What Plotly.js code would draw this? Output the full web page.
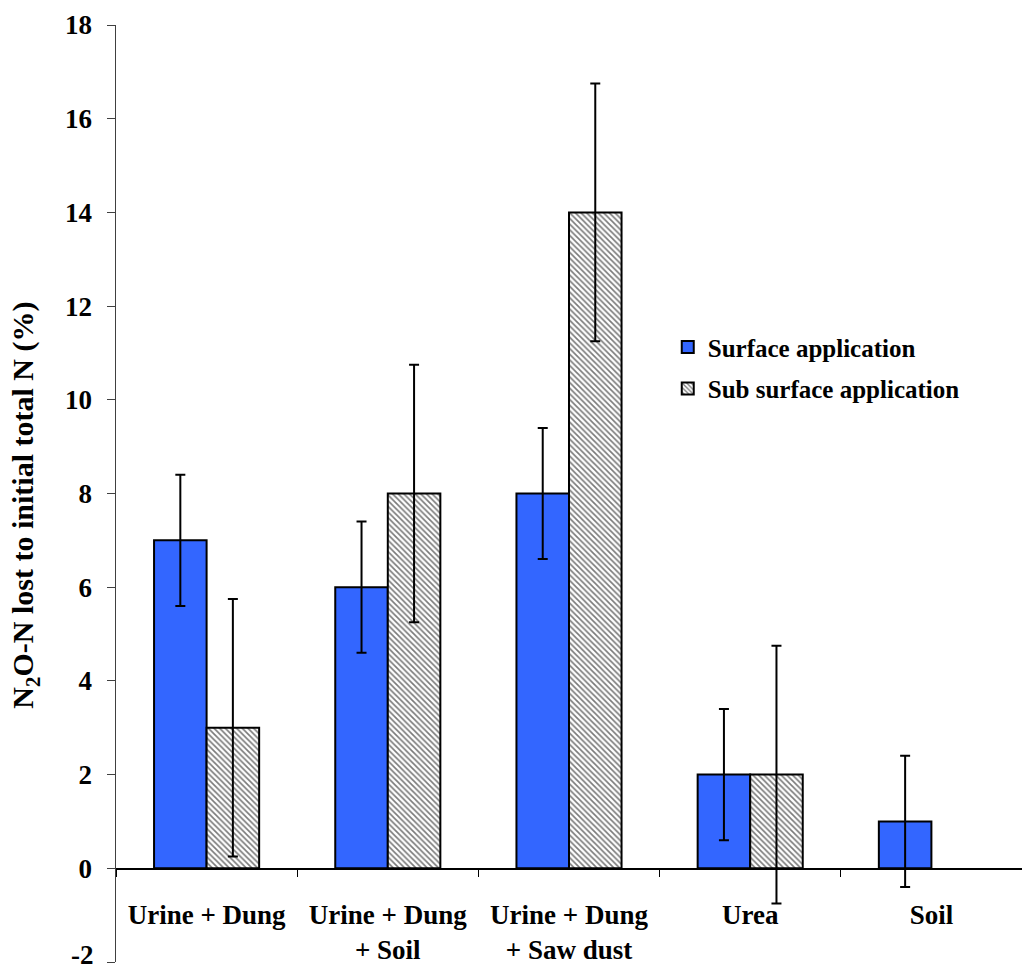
<!DOCTYPE html>
<html>
<head>
<meta charset="utf-8">
<script src="https://cdn.plot.ly/plotly-3.0.1.min.js"></script>
<style>html,body{margin:0;padding:0;background:#fff;}#chart{width:1022px;height:972px;}</style>
</head>
<body>
<div id="chart"></div>
<script>
const categories = ["Urine + Dung", "Urine + Dung<br>+ Soil", "Urine + Dung<br>+ Saw dust", "Urea", "Soil"];
const surfaceValues = [7, 6, 8, 2, 1];
const surfaceErrors = [1.4, 1.4, 1.4, 1.4, 1.4];
const subSurfaceValues = [3, 8, 14, 2, null];
const subSurfaceErrors = [2.75, 2.75, 2.75, 2.75, null];
const yTicks = [-2, 0, 2, 4, 6, 8, 10, 12, 14, 16, 18];
const yTickText = ['', '0', '2', '4', '6', '8', '10', '12', '14', '16', '18'];
const yBottomLabel = '-2';
const yTitle = 'N<sub>2</sub>O-N lost to initial total N (%)';

const fontFam = '"Liberation Serif", "Times New Roman", serif';

const traces = [
  {
    type: 'bar', name: 'Surface application', x: categories, y: surfaceValues,
    legendgroup: 'a',
    marker: {color: '#3366FF', line: {color: '#000', width: 2}},
    error_y: {type: 'data', array: surfaceErrors, visible: true, color: '#000', thickness: 2, width: 5}
  },
  {
    type: 'bar', name: 'Sub surface application', x: categories, y: subSurfaceValues,
    legendgroup: 'b',
    marker: {color: '#ffffff', line: {color: '#000', width: 2},
      pattern: {shape: '\\', fgcolor: '#7a7a7a', bgcolor: '#ffffff', size: 4, solidity: 0.4}},
    error_y: {type: 'data', array: subSurfaceErrors, visible: true, color: '#000', thickness: 2, width: 5}
  }
];

const layout = {
  width: 1022, height: 972,
  margin: {l: 116, r: 0, t: 25, b: 10},
  paper_bgcolor: '#fff', plot_bgcolor: '#fff',
  font: {family: fontFam, size: 27, color: '#000', weight: 'bold'},
  barmode: 'group', bargap: 0.42, bargroupgap: 0,
  showlegend: true,
  legend: {x: 0.609, xanchor: 'left', y: 0.6805, yanchor: 'top', bgcolor: 'rgba(0,0,0,0)',
    font: {family: fontFam, size: 25, color: '#000', weight: 'bold'},
    traceorder: 'grouped', tracegroupgap: 6},
  xaxis: {
    type: 'category', anchor: 'free', position: 0.1,
    showline: true, linecolor: '#000', linewidth: 1.5,
    ticks: 'outside', ticklen: 7, tickcolor: '#000', tickwidth: 1, tickson: 'boundaries',
    ticklabelstandoff: 22,
    tickfont: {family: fontFam, size: 27, color: '#000', weight: 'bold'},
    showgrid: false, zeroline: false, range: [-0.5, 4.5], fixedrange: true
  },
  yaxis: {
    range: [-2.0001, 18.0001], tickvals: yTicks, ticktext: yTickText,
    showline: true, linecolor: '#404040', linewidth: 1.5, mirror: false,
    ticks: 'outside', ticklen: 8, tickcolor: '#404040', tickwidth: 1,
    ticklabelstandoff: 9,
    tickfont: {family: fontFam, size: 27, color: '#000', weight: 'bold'},
    showgrid: false, zeroline: false
  },
  annotations: [
    {
      text: yTitle, xref: 'paper', yref: 'paper', x: 0, xshift: -91, y: 0.487,
      xanchor: 'center', yanchor: 'middle', textangle: -90, showarrow: false,
      font: {family: fontFam, size: 30, color: '#000', weight: 'bold'}
    },
    {
      text: yBottomLabel, xref: 'paper', yref: 'y', x: 0, xshift: -21, y: -2, yshift: -9,
      xanchor: 'right', yanchor: 'bottom', showarrow: false, borderpad: 0,
      font: {family: fontFam, size: 27, color: '#000', weight: 'bold'}
    }
  ]
};

Plotly.newPlot('chart', traces, layout, {displayModeBar: false, staticPlot: true});
</script>
</body>
</html>
